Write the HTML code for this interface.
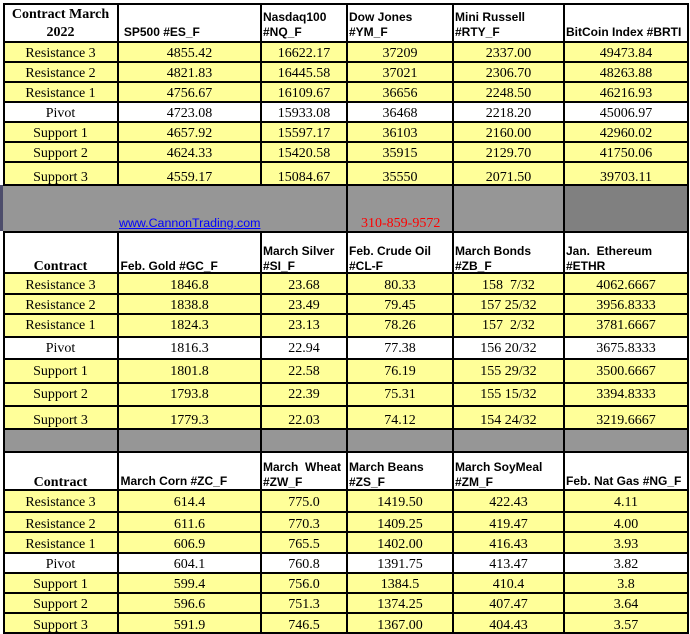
<!DOCTYPE html>
<html><head><meta charset="utf-8">
<style>
html,body{margin:0;padding:0;background:#fff;}
#p{position:relative;width:690px;height:634px;overflow:hidden;background:#fff;}
.f{position:absolute;}
.y{background:#ffff99;}
.w{background:#fff;}
.g{background:#969696;}
.hl{position:absolute;left:3px;width:686px;height:2px;background:#000;}
.vl{position:absolute;width:2px;background:#000;}
.r{position:absolute;left:0;width:690px;height:16px;}
.t{position:absolute;top:0;font-family:"Liberation Serif",serif;font-size:14px;line-height:16px;text-align:center;white-space:pre;color:#000;}
.c1{left:4px;width:113px}
.c2{left:119px;width:141px}
.c3{left:262px;width:84px}
.c4{left:348px;width:104px}
.c5{left:454px;width:109px}
.c6{left:565px;width:122px}
.h{position:absolute;font-family:"Liberation Sans",sans-serif;font-weight:bold;font-size:12px;line-height:15px;white-space:pre;color:#000;}
.tb{position:absolute;font-family:"Liberation Serif",serif;font-weight:bold;font-size:14px;text-align:center;white-space:pre;color:#000;}
</style></head><body><div id="p">

<!-- fills section 1 -->
<div class="f w" style="left:3px;top:3px;width:686px;height:38px"></div>
<div class="f y" style="left:3px;top:41px;width:686px;height:60px"></div>
<div class="f w" style="left:3px;top:101px;width:686px;height:20px"></div>
<div class="f y" style="left:3px;top:121px;width:686px;height:63px"></div>
<div class="f g" style="left:3px;top:184px;width:686px;height:47px"></div>
<div class="f" style="left:563px;top:184px;width:126px;height:47px;background:#808080"></div>
<div class="f" style="left:0px;top:185px;width:3px;height:46px;background:#4d4d6b"></div>

<!-- fills section 2 -->
<div class="f w" style="left:3px;top:231px;width:686px;height:41px"></div>
<div class="f y" style="left:3px;top:272px;width:686px;height:64px"></div>
<div class="f w" style="left:3px;top:336px;width:686px;height:22px"></div>
<div class="f y" style="left:3px;top:358px;width:686px;height:70px"></div>
<div class="f g" style="left:3px;top:428px;width:686px;height:23px"></div>

<!-- fills section 3 -->
<div class="f w" style="left:3px;top:451px;width:686px;height:38px"></div>
<div class="f y" style="left:3px;top:489px;width:686px;height:63px"></div>
<div class="f w" style="left:3px;top:552px;width:686px;height:20px"></div>
<div class="f y" style="left:3px;top:572px;width:686px;height:62px"></div>

<!-- horizontal lines -->
<div class="hl" style="top:3px"></div>
<div class="hl" style="top:41px"></div>
<div class="hl" style="top:61px"></div>
<div class="hl" style="top:81px"></div>
<div class="hl" style="top:101px"></div>
<div class="hl" style="top:121px"></div>
<div class="hl" style="top:141px"></div>
<div class="hl" style="top:161px"></div>
<div class="hl" style="top:184px"></div>
<div class="hl" style="top:231px"></div>
<div class="hl" style="top:272px"></div>
<div class="hl" style="top:293px"></div>
<div class="hl" style="top:313px"></div>
<div class="hl" style="top:336px"></div>
<div class="hl" style="top:358px"></div>
<div class="hl" style="top:382px"></div>
<div class="hl" style="top:405px"></div>
<div class="hl" style="top:428px"></div>
<div class="hl" style="top:451px"></div>
<div class="hl" style="top:489px"></div>
<div class="hl" style="top:511px"></div>
<div class="hl" style="top:531px"></div>
<div class="hl" style="top:552px"></div>
<div class="hl" style="top:572px"></div>
<div class="hl" style="top:592px"></div>
<div class="hl" style="top:612px"></div>
<div class="hl" style="top:632px"></div>

<!-- vertical lines -->
<div class="vl" style="left:3px;top:3px;height:183px"></div>
<div class="vl" style="left:3px;top:231px;height:403px"></div>
<div class="vl" style="left:117px;top:3px;height:183px"></div>
<div class="vl" style="left:117px;top:231px;height:403px"></div>
<div class="vl" style="left:260px;top:3px;height:183px"></div>
<div class="vl" style="left:260px;top:231px;height:403px"></div>
<div class="vl" style="left:346px;top:3px;height:631px"></div>
<div class="vl" style="left:452px;top:3px;height:631px"></div>
<div class="vl" style="left:563px;top:3px;height:631px"></div>
<div class="vl" style="left:687px;top:3px;height:631px"></div>

<!-- Section 1 header -->
<div class="tb" style="left:4px;width:113px;top:5.6px;line-height:18.4px">Contract March<br>2022</div>
<div class="h" style="left:120.5px;top:25.2px"> SP500 #ES_F</div>
<div class="h" style="left:263px;top:10.3px">Nasdaq100<br>#NQ_F</div>
<div class="h" style="left:349px;top:10.3px">Dow Jones<br>#YM_F</div>
<div class="h" style="left:455px;top:10.3px">Mini Russell<br>#RTY_F</div>
<div class="h" style="left:566px;top:25.2px">BitCoin Index #BRTI</div>

<!-- Section 1 rows -->
<div class="r" style="top:46.3px"><div class="t c1">Resistance 3</div><div class="t c2">4855.42</div><div class="t c3">16622.17</div><div class="t c4">37209</div><div class="t c5">2337.00</div><div class="t c6">49473.84</div></div>
<div class="r" style="top:66.3px"><div class="t c1">Resistance 2</div><div class="t c2">4821.83</div><div class="t c3">16445.58</div><div class="t c4">37021</div><div class="t c5">2306.70</div><div class="t c6">48263.88</div></div>
<div class="r" style="top:86.3px"><div class="t c1">Resistance 1</div><div class="t c2">4756.67</div><div class="t c3">16109.67</div><div class="t c4">36656</div><div class="t c5">2248.50</div><div class="t c6">46216.93</div></div>
<div class="r" style="top:106.3px"><div class="t c1">Pivot</div><div class="t c2">4723.08</div><div class="t c3">15933.08</div><div class="t c4">36468</div><div class="t c5">2218.20</div><div class="t c6">45006.97</div></div>
<div class="r" style="top:126.3px"><div class="t c1">Support 1</div><div class="t c2">4657.92</div><div class="t c3">15597.17</div><div class="t c4">36103</div><div class="t c5">2160.00</div><div class="t c6">42960.02</div></div>
<div class="r" style="top:146.3px"><div class="t c1">Support 2</div><div class="t c2">4624.33</div><div class="t c3">15420.58</div><div class="t c4">35915</div><div class="t c5">2129.70</div><div class="t c6">41750.06</div></div>
<div class="r" style="top:170.3px"><div class="t c1">Support 3</div><div class="t c2">4559.17</div><div class="t c3">15084.67</div><div class="t c4">35550</div><div class="t c5">2071.50</div><div class="t c6">39703.11</div></div>

<!-- gray band text -->
<div style="position:absolute;left:119px;top:216.2px;font-family:'Liberation Sans',sans-serif;font-size:12.4px;line-height:15px;color:#0000ff;text-decoration:underline;white-space:pre">www.CannonTrading.com</div>
<div style="position:absolute;left:361px;top:215.8px;font-family:'Liberation Serif',serif;font-size:14px;line-height:16px;color:#ff0000;white-space:pre">310-859-9572</div>

<!-- Section 2 header -->
<div class="tb" style="left:4px;width:113px;top:259.3px;line-height:16px">Contract</div>
<div class="h" style="left:120.5px;top:258.8px">Feb. Gold #GC_F</div>
<div class="h" style="left:263px;top:243.5px">March Silver<br>#SI_F</div>
<div class="h" style="left:349px;top:243.5px">Feb. Crude Oil<br>#CL-F</div>
<div class="h" style="left:455px;top:243.5px">March Bonds<br>#ZB_F</div>
<div class="h" style="left:566px;top:243.5px">Jan.  Ethereum<br>#ETHR</div>

<!-- Section 2 rows -->
<div class="r" style="top:278.3px"><div class="t c1">Resistance 3</div><div class="t c2">1846.8</div><div class="t c3">23.68</div><div class="t c4">80.33</div><div class="t c5">158  7/32</div><div class="t c6">4062.6667</div></div>
<div class="r" style="top:298.3px"><div class="t c1">Resistance 2</div><div class="t c2">1838.8</div><div class="t c3">23.49</div><div class="t c4">79.45</div><div class="t c5">157 25/32</div><div class="t c6">3956.8333</div></div>
<div class="r" style="top:318.3px"><div class="t c1">Resistance 1</div><div class="t c2">1824.3</div><div class="t c3">23.13</div><div class="t c4">78.26</div><div class="t c5">157  2/32</div><div class="t c6">3781.6667</div></div>
<div class="r" style="top:341px"><div class="t c1">Pivot</div><div class="t c2">1816.3</div><div class="t c3">22.94</div><div class="t c4">77.38</div><div class="t c5">156 20/32</div><div class="t c6">3675.8333</div></div>
<div class="r" style="top:364.3px"><div class="t c1">Support 1</div><div class="t c2">1801.8</div><div class="t c3">22.58</div><div class="t c4">76.19</div><div class="t c5">155 29/32</div><div class="t c6">3500.6667</div></div>
<div class="r" style="top:387.3px"><div class="t c1">Support 2</div><div class="t c2">1793.8</div><div class="t c3">22.39</div><div class="t c4">75.31</div><div class="t c5">155 15/32</div><div class="t c6">3394.8333</div></div>
<div class="r" style="top:413.3px"><div class="t c1">Support 3</div><div class="t c2">1779.3</div><div class="t c3">22.03</div><div class="t c4">74.12</div><div class="t c5">154 24/32</div><div class="t c6">3219.6667</div></div>

<!-- Section 3 header -->
<div class="tb" style="left:4px;width:113px;top:475px;line-height:16px">Contract</div>
<div class="h" style="left:120.5px;top:474.3px">March Corn #ZC_F</div>
<div class="h" style="left:263px;top:459.5px">March  Wheat<br>#ZW_F</div>
<div class="h" style="left:349px;top:459.5px">March Beans<br>#ZS_F</div>
<div class="h" style="left:455px;top:459.5px">March SoyMeal<br>#ZM_F</div>
<div class="h" style="left:566px;top:474.3px">Feb. Nat Gas #NG_F</div>

<!-- Section 3 rows -->
<div class="r" style="top:494.8px"><div class="t c1">Resistance 3</div><div class="t c2">614.4</div><div class="t c3">775.0</div><div class="t c4">1419.50</div><div class="t c5">422.43</div><div class="t c6">4.11</div></div>
<div class="r" style="top:517px"><div class="t c1">Resistance 2</div><div class="t c2">611.6</div><div class="t c3">770.3</div><div class="t c4">1409.25</div><div class="t c5">419.47</div><div class="t c6">4.00</div></div>
<div class="r" style="top:537.3px"><div class="t c1">Resistance 1</div><div class="t c2">606.9</div><div class="t c3">765.5</div><div class="t c4">1402.00</div><div class="t c5">416.43</div><div class="t c6">3.93</div></div>
<div class="r" style="top:557.3px"><div class="t c1">Pivot</div><div class="t c2">604.1</div><div class="t c3">760.8</div><div class="t c4">1391.75</div><div class="t c5">413.47</div><div class="t c6">3.82</div></div>
<div class="r" style="top:577.3px"><div class="t c1">Support 1</div><div class="t c2">599.4</div><div class="t c3">756.0</div><div class="t c4">1384.5</div><div class="t c5">410.4</div><div class="t c6">3.8</div></div>
<div class="r" style="top:597.3px"><div class="t c1">Support 2</div><div class="t c2">596.6</div><div class="t c3">751.3</div><div class="t c4">1374.25</div><div class="t c5">407.47</div><div class="t c6">3.64</div></div>
<div class="r" style="top:617.5px"><div class="t c1">Support 3</div><div class="t c2">591.9</div><div class="t c3">746.5</div><div class="t c4">1367.00</div><div class="t c5">404.43</div><div class="t c6">3.57</div></div>

</div></body></html>
